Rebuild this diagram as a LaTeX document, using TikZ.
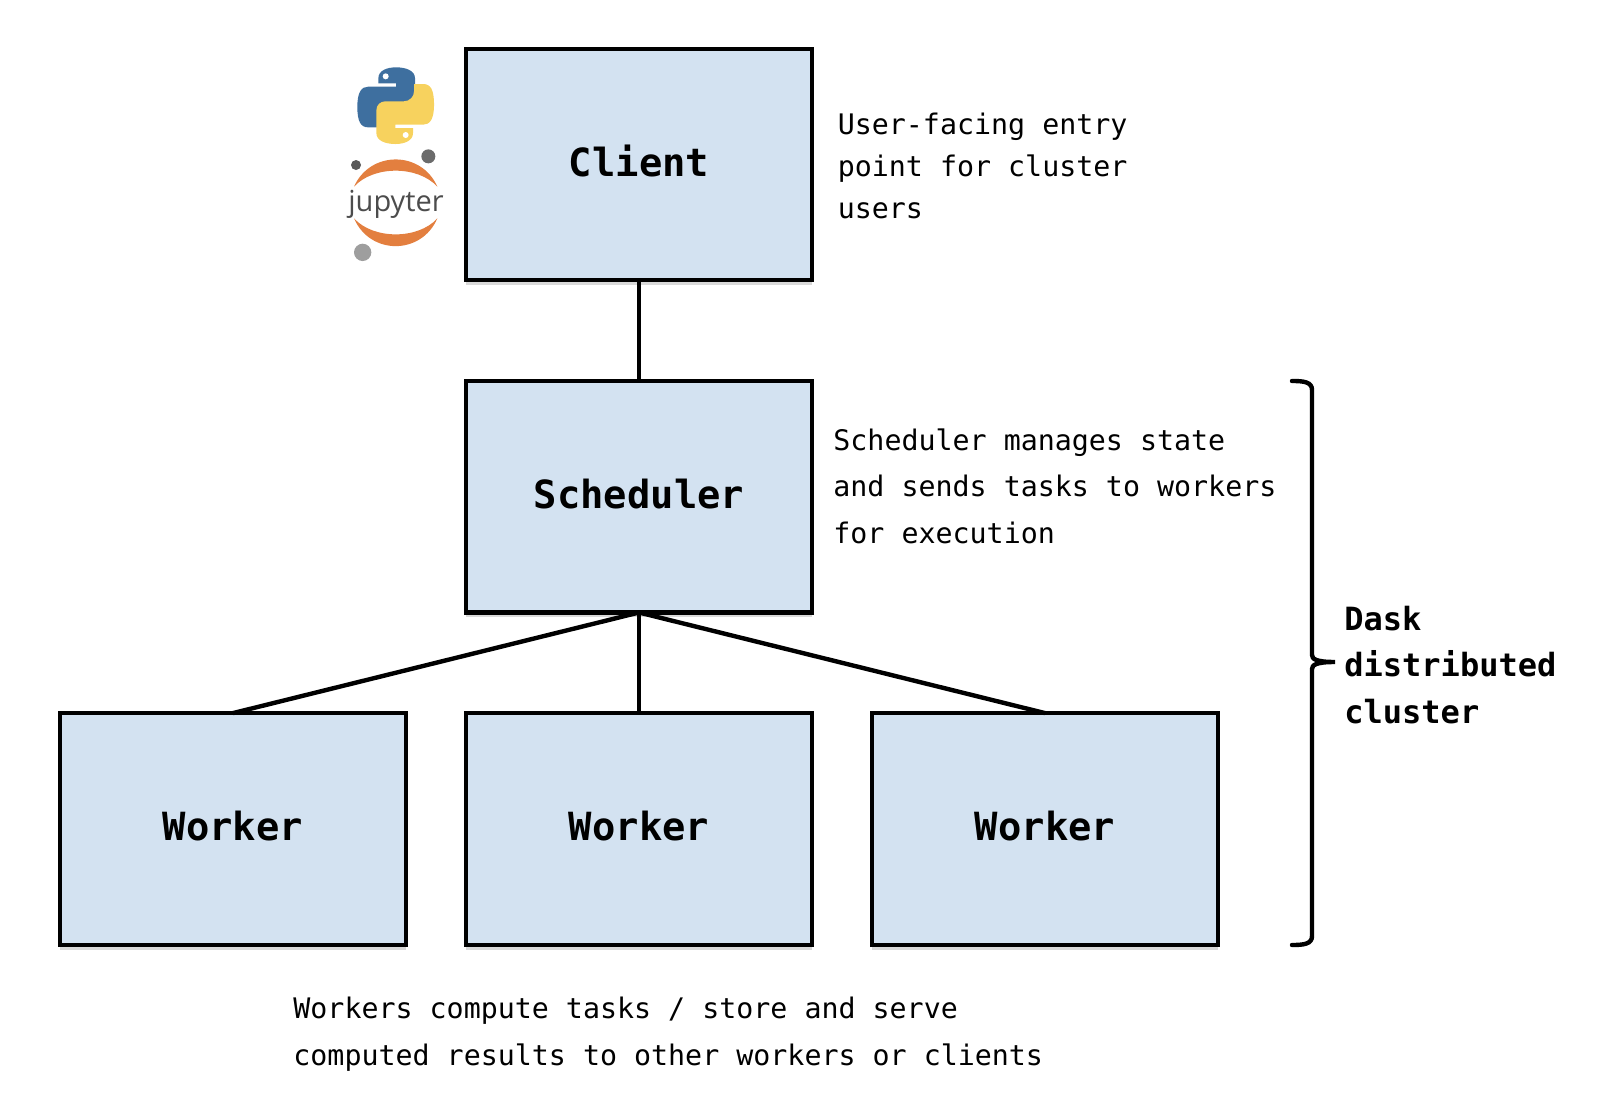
\documentclass[tikz,border=0pt]{standalone}
\usepackage{fontspec}
\setmonofont{DejaVu Sans Mono}
\newfontfamily\logofont{Open Sans}
\usetikzlibrary{positioning,shadows}
\definecolor{boxfill}{HTML}{D3E2F1}
\definecolor{pyblue}{HTML}{3E6F9F}
\definecolor{pyyellow}{HTML}{F7D25E}
\definecolor{juporange}{HTML}{E37F3F}
\begin{document}
\begin{tikzpicture}[x=0.5pt, y=-0.5pt,
	block/.style={rectangle, draw, line width=2.1pt, fill=boxfill, outer sep=0pt,
		minimum width=173.2pt, minimum height=115.8pt, text height=14.6pt, text depth=3pt,
		font=\ttfamily\bfseries\fontsize{19.4}{23}\selectfont,
		drop shadow={shadow xshift=0pt, shadow yshift=-2.4pt, opacity=0.3}},
	link/.style={line width=2.2pt},
	note/.style={align=left, inner sep=0pt, font=\ttfamily\fontsize{14.15}{#1}\selectfont},
	note/.default=23.2]
\newcommand{\snake}[1]{\fill [#1] (175,115) .. controls (175,92) and (200,82) .. (228,82)
	.. controls (258,82) and (285,92) .. (285,115) -- (285,183)
	.. controls (285,200) and (272,210) .. (258,210) -- (203,210)
	.. controls (185,210) and (172,224) .. (172,240) -- (172,262) -- (145,262)
	.. controls (122,262) and (112,245) .. (112,200)
	.. controls (112,155) and (125,140) .. (145,140) -- (228,140) -- (228,130) -- (175,130) -- cycle;}
\useasboundingbox (0,0) rectangle (1600,1106);

\node [block] (client) at (639,164.5) {Client};
\node [block, below=50.3pt of client] (scheduler) {Scheduler};
\node [block, below=50.3pt of scheduler] (workermid) {Worker};
\node [block, left=29.8pt of workermid] (workerleft) {Worker};
\node [block, right=29.8pt of workermid] (workerright) {Worker};

\draw [link] (client) -- (scheduler);
\draw [link] (scheduler.south) -- (workerleft.north);
\draw [link] (scheduler.south) -- (workermid.north);
\draw [link] (scheduler.south) -- (workerright.north);

\node [note=21, right=12.6pt of client, yshift=-0.8pt] (clientnote) {User-facing entry\\point for cluster\\users};
\node [note, anchor=north west] (schedulernote) at (833,428.5) {Scheduler manages state\\and sends tasks to workers\\for execution};
\node [note, anchor=north west] (workernote) at (293,997) {Workers compute tasks / store and serve\\computed results to other workers or clients};
\node [note, anchor=west, font=\ttfamily\bfseries\fontsize{16}{23.2}\selectfont] (dasklabel) at (1344,665) {Dask\\distributed\\cluster};

\coordinate (bracetop) at (1292,381);
\coordinate (bracetip) at (1335,662);
\coordinate (bracebottom) at (1292,945);
\draw [link, line cap=round] (bracetop) .. controls (1304,381) and (1312,382) .. (1312,390) -- (1312,655)
	.. controls (1312,659) and (1316,662) .. (bracetip)
	.. controls (1316,662) and (1312,665) .. (1312,669) -- (1312,936)
	.. controls (1312,944) and (1304,945) .. (bracebottom);

\begin{scope}[shift={(320,40)}, x=0.1667pt, y=-0.1667pt]
	\snake{pyblue}
	\begin{scope}[rotate around={180:(227,197)}]
		\snake{pyyellow}
		\fill [white] (197,109) circle (9);
	\end{scope}
	\fill [white] (197,109) circle (9);
	\fill [juporange] (102,440) .. controls (150,331) and (304,331) .. (352,440)
		.. controls (294,376) and (160,376) .. cycle;
	\fill [juporange] (102,535) .. controls (150,646) and (304,646) .. (352,535)
		.. controls (294,599) and (160,599) .. cycle;
	\fill [black!65] (108,375) circle (15);
	\fill [black!58] (325,349) circle (21);
	\fill [black!38] (128,637) circle (26);
	\node [inner sep=0pt, text=black!70, font=\logofont\fontsize{14.5}{16}\selectfont] (jupyterlabel) at (228,492) {jupyter};
\end{scope}
\end{tikzpicture}
\end{document}
